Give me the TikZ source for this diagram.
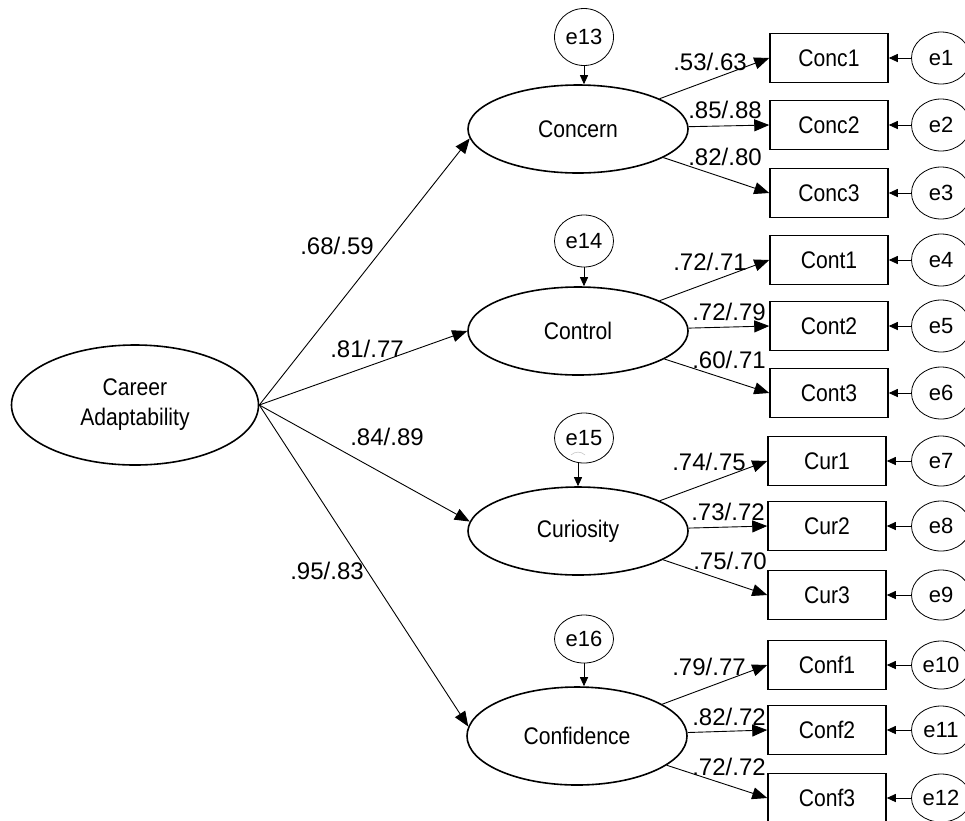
\documentclass[tikz,border=0pt]{standalone}
\usepackage{fontspec}
\setmainfont{Liberation Sans}
\newfontfamily\narrowfont{Liberation Sans}[FakeStretch=0.88]
\usetikzlibrary{shapes.geometric, arrows.meta}

\tikzset{
    latent/.style={ellipse, draw, line width=1.6pt, inner sep=0pt, minimum width=220, minimum height=88, font=\narrowfont\fontsize{24}{30}\selectfont},
    item/.style={rectangle, draw, line width=1.5pt, minimum width=118, minimum height=49, font=\narrowfont\fontsize{24}{30}\selectfont},
    err/.style={ellipse, draw, line width=0.8pt, inner sep=0pt, minimum width=59, minimum height=#1, font=\fontsize{22}{26}\selectfont},
    err/.default=52,
    load/.style={inner sep=0pt, font=\fontsize{24}{28}\selectfont},
    arr/.style={line width=0.9pt, -{Triangle[length=15pt,width=12pt]}},
    earr/.style={line width=0.9pt, -{Triangle[length=9pt,width=8pt]}},
}

\begin{document}
\begin{tikzpicture}[x=1pt, y=-1pt]
    \useasboundingbox[fill=white] (0,0) rectangle (965,820);

    % Second-order factor and the four first-order factors
    \node[latent, minimum width=247, minimum height=120, align=center] (adapt) at (135,405) {Career\\Adaptability};
    \node[latent] (concern) at (578,129) {Concern};
    \node[latent] (control) at (578,331) {Control};
    \node[latent] (curiosity) at (578,531) {Curiosity};
    \node[latent, minimum height=98] (confidence) at (577,736) {Confidence};

    % Disturbances
    \node[err=57] (e13) at (584,37) {e13};
    \node[err] (e14) at (584,241) {e14};
    \node[err=50] (e15) at (584,438) {e15};
    \node[err=48] (e16) at (584,639) {e16};
    \draw[gray!50, line width=0.5pt] ([shift={(-13,17)}]e15.center) to[bend left=45] ([shift={(1,17)}]e15.center);

    % Items
    \node[item] (conc1) at (829,58) {Conc1};
    \node[item] (conc2) at (829,125) {Conc2};
    \node[item] (conc3) at (829,193) {Conc3};
    \node[item] (cont1) at (829,260) {Cont1};
    \node[item] (cont2) at (829,326) {Cont2};
    \node[item] (cont3) at (829,393) {Cont3};
    \node[item] (cur1) at (827,461) {Cur1};
    \node[item] (cur2) at (827,526) {Cur2};
    \node[item] (cur3) at (827,595) {Cur3};
    \node[item] (conf1) at (827,665) {Conf1};
    \node[item] (conf2) at (827,730) {Conf2};
    \node[item] (conf3) at (827,798) {Conf3};

    % Item errors
    \node[err] (e1) at (941,58) {e1};
    \node[err] (e2) at (941,125) {e2};
    \node[err] (e3) at (941,193) {e3};
    \node[err] (e4) at (941,260) {e4};
    \node[err] (e5) at (941,326) {e5};
    \node[err] (e6) at (941,393) {e6};
    \node[err=50] (e7) at (941,461) {e7};
    \node[err=50] (e8) at (941,526) {e8};
    \node[err=50] (e9) at (941,595) {e9};
    \node[err=48] (e10) at (941,665) {e10};
    \node[err=48] (e11) at (941,730) {e11};
    \node[err=48] (e12) at (941,798) {e12};

    % Second-order loadings
    \draw[arr] (adapt.east) -- (concern.185);
    \draw[arr] (adapt.east) -- (control.west);
    \draw[arr] (adapt.east) -- (curiosity.175);
    \draw[arr] (adapt.east) -- (confidence.175);
    \node[load] (l-concern) at (337,246) {.68/.59};
    \node[load] (l-control) at (367,349) {.81/.77};
    \node[load] (l-curiosity) at (387,437) {.84/.89};
    \node[load] (l-confidence) at (327,571) {.95/.83};

    % Disturbance arrows
    \draw[earr] (e13) -- (e13 |- concern.north);
    \draw[earr] (e14) -- (e14 |- control.north);
    \draw[earr] (e15.south -| curiosity.north) -- (curiosity.north);
    \draw[earr] (e16) -- (e16 |- confidence.north);

    % First-order loadings
    \draw[arr] (concern) -- (conc1.west);
    \draw[arr] (concern) -- (conc2.west);
    \draw[arr] (concern) -- (conc3.west);
    \draw[arr] (control) -- (cont1.west);
    \draw[arr] (control) -- (cont2.west);
    \draw[arr] (control) -- (cont3.west);
    \draw[arr] (curiosity) -- (cur1.west);
    \draw[arr] (curiosity) -- (cur2.west);
    \draw[arr] (curiosity) -- (cur3.west);
    \draw[arr] (confidence) -- (conf1.west);
    \draw[arr] (confidence) -- (conf2.west);
    \draw[arr] (confidence) -- (conf3.west);

    \node[load] (l-conc1) at (710,62) {.53/.63};
    \node[load] (l-conc2) at (725,110) {.85/.88};
    \node[load] (l-conc3) at (725,157) {.82/.80};
    \node[load] (l-cont1) at (710,262) {.72/.71};
    \node[load] (l-cont2) at (729,312) {.72/.79};
    \node[load] (l-cont3) at (729,360) {.60/.71};
    \node[load] (l-cur1) at (709,462) {.74/.75};
    \node[load] (l-cur2) at (728,512) {.73/.72};
    \node[load] (l-cur3) at (730,561) {.75/.70};
    \node[load] (l-conf1) at (709,667) {.79/.77};
    \node[load] (l-conf2) at (729,717) {.82/.72};
    \node[load] (l-conf3) at (729,767) {.72/.72};

    % Error arrows
    \foreach \i/\b in {1/conc1, 2/conc2, 3/conc3, 4/cont1, 5/cont2, 6/cont3, 7/cur1, 8/cur2, 9/cur3, 10/conf1, 11/conf2, 12/conf3}
        \draw[earr] (e\i) -- (\b);
\end{tikzpicture}
\end{document}
